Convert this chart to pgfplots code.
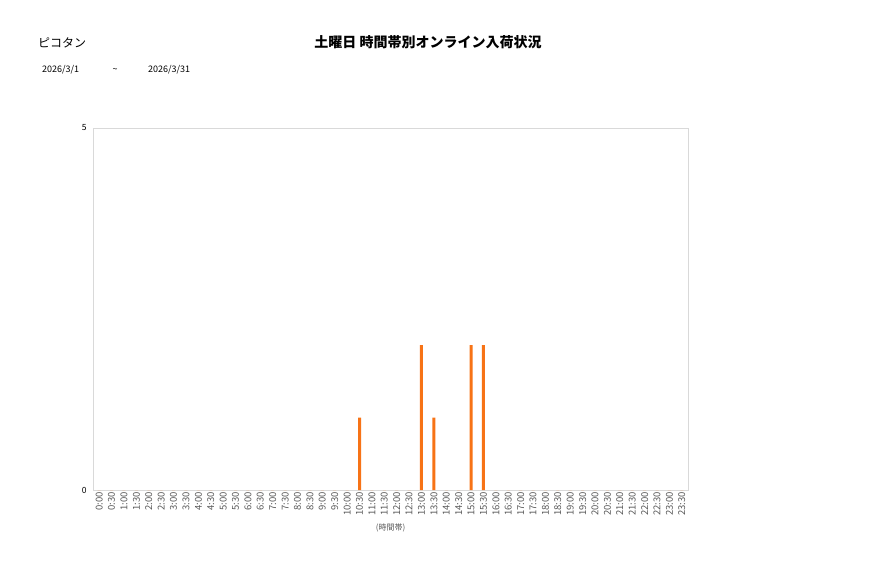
\documentclass[border=0pt]{standalone}
\usepackage{fontspec}
\setmainfont{Noto Sans CJK JP}
\usepackage{pgfplots}
\pgfplotsset{compat=1.18}
\usepackage{pgfplotstable}
\definecolor{barorange}{RGB}{247,115,22}
\definecolor{axgray}{RGB}{217,217,217}
\definecolor{txtgray}{RGB}{89,89,89}
\pgfplotstableread{
x y
0 0
1 0
2 0
3 0
4 0
5 0
6 0
7 0
8 0
9 0
10 0
11 0
12 0
13 0
14 0
15 0
16 0
17 0
18 0
19 0
20 0
21 1
22 0
23 0
24 0
25 0
26 2
27 1
28 0
29 0
30 2
31 2
32 0
33 0
34 0
35 0
36 0
37 0
38 0
39 0
40 0
41 0
42 0
43 0
44 0
45 0
46 0
47 0
}\datatable
\begin{document}
\begin{tikzpicture}
\path[use as bounding box] (0pt,0pt) rectangle (877pt,578pt);
\node[anchor=base west, font=\fontsize{12}{12}\selectfont, inner sep=0pt] at (38pt,530pt) {ピコタン};
\node[anchor=base, font=\bfseries\fontsize{14}{14}\selectfont, inner sep=0pt] at (428pt,530pt) {土曜日 時間帯別オンライン入荷状況};
\node[anchor=base west, font=\fontsize{9}{9}\selectfont, inner sep=0pt] at (42pt,505pt) {2026/3/1};
\node[anchor=base, font=\fontsize{9}{9}\selectfont, inner sep=0pt] at (115pt,505pt) {\textasciitilde};
\node[anchor=base west, font=\fontsize{9}{9}\selectfont, inner sep=0pt] at (148pt,505pt) {2026/3/31};
\begin{axis}[
  at={(93pt,88pt)}, anchor=south west,
  scale only axis, width=595pt, height=362pt,
  xmin=-0.5, xmax=47.5, ymin=0, ymax=5,
  ytick={0,5},
  xtick={0,...,47},
  xticklabels={0:00,0:30,1:00,1:30,2:00,2:30,3:00,3:30,4:00,4:30,5:00,5:30,6:00,6:30,7:00,7:30,8:00,8:30,9:00,9:30,10:00,10:30,11:00,11:30,12:00,12:30,13:00,13:30,14:00,14:30,15:00,15:30,16:00,16:30,17:00,17:30,18:00,18:30,19:00,19:30,20:00,20:30,21:00,21:30,22:00,22:30,23:00,23:30},
  x tick label style={rotate=90, anchor=east, font=\fontsize{9.5}{9.5}\selectfont, text=txtgray, inner sep=2pt},
  y tick label style={font=\fontsize{8.5}{8.5}\selectfont, text=black, xshift=-3pt},
  /pgf/number format/assume math mode=true,
  axis line style={axgray},
  major tick length=0pt,
  xlabel={(時間帯)},
  xlabel style={at={(axis description cs:0.5,0)}, anchor=center, yshift=-38pt, font=\fontsize{8}{8}\selectfont, text=txtgray},
  ybar, bar width=3pt,
]
\addplot[fill=barorange, draw=none] table[x=x,y=y] {\datatable};
\end{axis}
\end{tikzpicture}
\end{document}
